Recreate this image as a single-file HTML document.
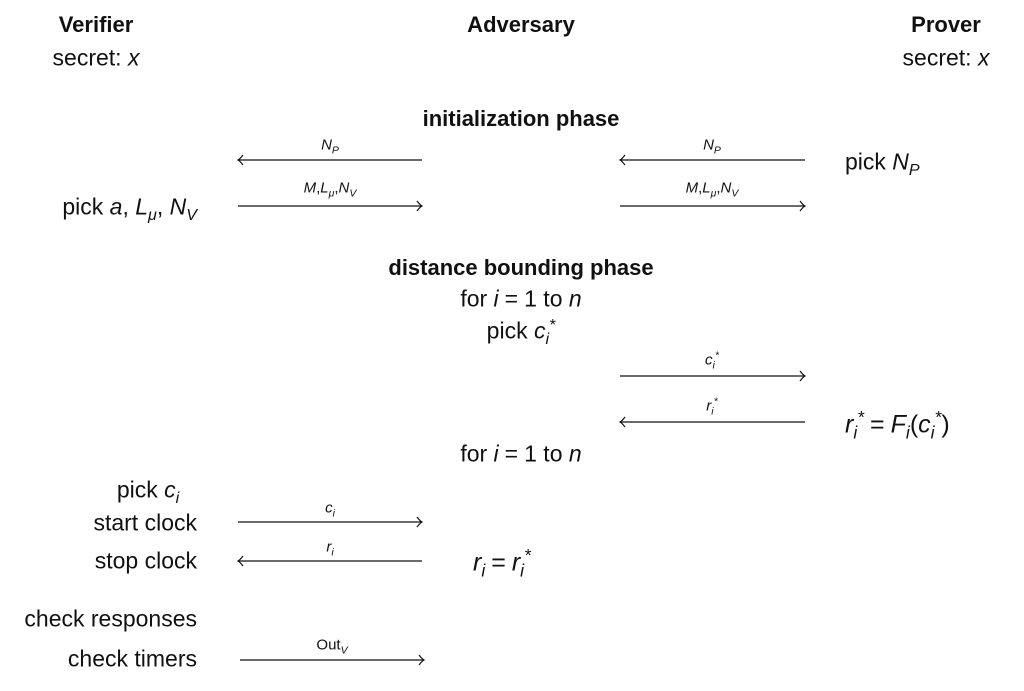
<!DOCTYPE html>
<html><head><meta charset="utf-8"><style>
html,body{margin:0;padding:0;background:#fff;}
body{width:1024px;height:691px;position:relative;overflow:hidden;font-family:"Liberation Sans",sans-serif;color:#111;}
.t{position:absolute;font-size:23px;white-space:nowrap;line-height:1;}
.c{transform:translate(-50%,-50%);}
.r{transform:translate(-100%,-50%);}
.l{transform:translate(0,-50%);}
.s{font-size:15px;}
.b{font-weight:bold;font-size:22px;}
i{font-style:italic;}
sub,sup{font-size:70%;line-height:0;}
.eq{padding:0 6px;}
svg{position:absolute;left:0;top:0;}
</style></head><body>
<svg width="1024" height="691" stroke="#111" stroke-width="1.2" fill="none">
<g>
<line x1="238" y1="160" x2="422" y2="160"/><path d="M243,155 Q240,159 238,160 Q240,161 243,165"/>
<line x1="238" y1="206" x2="422" y2="206"/><path d="M417,201 Q420,205 422,206 Q420,207 417,211"/>
<line x1="620" y1="160" x2="805" y2="160"/><path d="M625,155 Q622,159 620,160 Q622,161 625,165"/>
<line x1="620" y1="206" x2="805" y2="206"/><path d="M800,201 Q803,205 805,206 Q803,207 800,211"/>
<line x1="620" y1="376" x2="805" y2="376"/><path d="M800,371 Q803,375 805,376 Q803,377 800,381"/>
<line x1="620" y1="422" x2="805" y2="422"/><path d="M625,417 Q622,421 620,422 Q622,423 625,427"/>
<line x1="238" y1="522" x2="422" y2="522"/><path d="M417,517 Q420,521 422,522 Q420,523 417,527"/>
<line x1="238" y1="561" x2="422" y2="561"/><path d="M243,556 Q240,560 238,561 Q240,562 243,566"/>
<line x1="240" y1="660" x2="424" y2="660"/><path d="M419,655 Q422,659 424,660 Q422,661 419,665"/>
</g></svg>
<div class="t c b" style="left:96px;top:25px">Verifier</div>
<div class="t c" style="left:96px;top:58px">secret: <i>x</i></div>
<div class="t c b" style="left:521px;top:25px">Adversary</div>
<div class="t c b" style="left:946px;top:25px">Prover</div>
<div class="t c" style="left:946px;top:58px">secret: <i>x</i></div>
<div class="t c b" style="left:521px;top:119px">initialization phase</div>
<div class="t c s" style="left:330px;top:145px"><i>N<sub>P</sub></i></div>
<div class="t c s" style="left:712px;top:145px"><i>N<sub>P</sub></i></div>
<div class="t c s" style="left:330px;top:188px"><i>M</i>,<i>L<sub>μ</sub></i>,<i>N<sub>V</sub></i></div>
<div class="t c s" style="left:712px;top:188px"><i>M</i>,<i>L<sub>μ</sub></i>,<i>N<sub>V</sub></i></div>
<div class="t l" style="left:845px;top:162px">pick <i>N<sub>P</sub></i></div>
<div class="t r" style="left:197px;top:207px">pick <i>a</i>, <i>L<sub>μ</sub></i>, <i>N<sub>V</sub></i></div>
<div class="t c b" style="left:521px;top:268px">distance bounding phase</div>
<div class="t c" style="left:521px;top:299px">for <i>i</i><span class="eq">=</span>1 to <i>n</i></div>
<div class="t c" style="left:521px;top:331px">pick <i>c<sub>i</sub><sup>*</sup></i></div>
<div class="t c s" style="left:712px;top:360px"><i>c<sub>i</sub><sup>*</sup></i></div>
<div class="t c s" style="left:712px;top:406px"><i>r<sub>i</sub><sup>*</sup></i></div>
<div class="t l" style="left:845px;top:425px;font-size:25px"><i>r<sub>i</sub><sup>*</sup></i><span class="eq">=</span><i>F<sub>i</sub></i>(<i>c<sub>i</sub><sup>*</sup></i>)</div>
<div class="t c" style="left:521px;top:454px">for <i>i</i><span class="eq">=</span>1 to <i>n</i></div>
<div class="t c" style="left:148px;top:490px">pick <i>c<sub>i</sub></i></div>
<div class="t r" style="left:197px;top:523px">start clock</div>
<div class="t r" style="left:197px;top:561px">stop clock</div>
<div class="t c s" style="left:330px;top:508px"><i>c<sub>i</sub></i></div>
<div class="t c s" style="left:330px;top:547px"><i>r<sub>i</sub></i></div>
<div class="t l" style="left:473px;top:563px;font-size:25px"><i>r<sub>i</sub></i><span class="eq">=</span><i>r<sub>i</sub><sup>*</sup></i></div>
<div class="t r" style="left:197px;top:619px">check responses</div>
<div class="t r" style="left:197px;top:659px">check timers</div>
<div class="t c s" style="left:332px;top:645px">Out<sub><i>V</i></sub></div>
</body></html>
